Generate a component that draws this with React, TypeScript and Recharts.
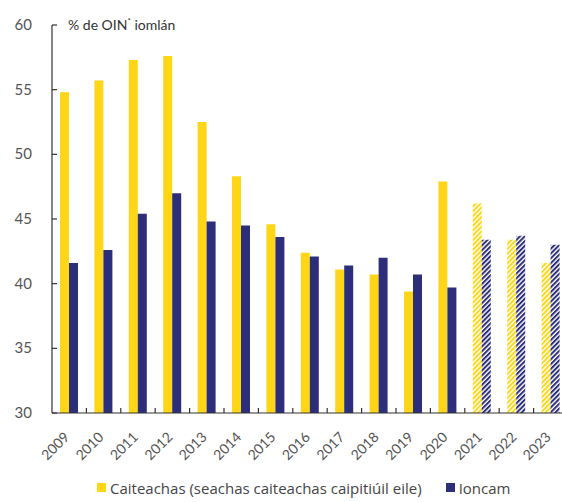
import React from "react";
import { BarChart, Bar, XAxis, YAxis, Cell, Legend } from "recharts";

const years = ["2009", "2010", "2011", "2012", "2013", "2014", "2015", "2016", "2017", "2018", "2019", "2020", "2021", "2022", "2023"];
const expenditure = [54.8, 55.7, 57.3, 57.6, 52.5, 48.3, 44.6, 42.4, 41.1, 40.7, 39.4, 47.9, 46.2, 43.4, 41.6];
const revenue = [41.6, 42.6, 45.4, 47.0, 44.8, 44.5, 43.6, 42.1, 41.4, 42.0, 40.7, 39.7, 43.4, 43.7, 43.0];
const forecastYears = ["2021", "2022", "2023"];
const yTicks = [30, 35, 40, 45, 50, 55, 60];

const YELLOW = "#FFD617";
const NAVY = "#2C2E7A";
const FONT = "Lato, 'Open Sans', sans-serif";

const data = years.map((year, i) => ({
  year,
  expenditure: expenditure[i],
  revenue: revenue[i],
}));

const CHART_W = 568;
const CHART_H = 502;
const Y_AXIS_W = 52;
const BAND = (CHART_W - Y_AXIS_W) / years.length;

function YTick(props: any) {
  const { x, y, payload } = props;
  return (
    <g>
      <line x1={x + 20} x2={x + 25} y1={y} y2={y} stroke="#333" strokeWidth={1.2} />
      <text x={x} y={y} dy={5} textAnchor="end" fontSize={15} fill="#555" fontFamily={FONT}>
        {payload.value}
      </text>
    </g>
  );
}

function XTick(props: any) {
  const { x, y, payload, index } = props;
  const bx = x + BAND / 2;
  return (
    <g>
      {index < years.length - 1 && (
        <line x1={bx} x2={bx} y1={y} y2={y - 5} stroke="#333" strokeWidth={1.2} />
      )}
      <text
        x={x + 1}
        y={y + 25}
        textAnchor="end"
        fontSize={14}
        fill="#555"
        fontFamily={FONT}
        transform={`rotate(-45 ${x + 1} ${y + 25})`}
      >
        {payload.value}
      </text>
    </g>
  );
}

function LegendContent() {
  const item = (color: string, label: string) => (
    <div style={{ display: "flex", alignItems: "center" }}>
      <span style={{ width: 9, height: 9, background: color, marginRight: 4, display: "inline-block" }} />
      <span>{label}</span>
    </div>
  );
  return (
    <div
      style={{
        height: 29,
        display: "flex",
        alignItems: "center",
        gap: 24,
        paddingLeft: 97,
        fontFamily: "'Open Sans', Lato, sans-serif",
        fontSize: 15,
        color: "#444",
      }}
    >
      {item(YELLOW, "Caiteachas (seachas caiteachas caipitiúil eile)")}
      {item(NAVY, "Ioncam")}
    </div>
  );
}

export default function App() {
  return (
    <div style={{ position: "absolute", left: 0, top: 0, width: 562, height: 502, overflow: "hidden", background: "#fff" }}>
      <div
        style={{
          position: "absolute",
          left: 68,
          top: 16,
          fontFamily: FONT,
          fontSize: 14,
          color: "#333",
          zIndex: 1,
        }}
      >
        % de OIN<sup style={{ fontSize: 8 }}>*</sup> iomlán
      </div>
      <BarChart
        width={CHART_W}
        height={CHART_H}
        data={data}
        margin={{ top: 25, right: 0, bottom: 0, left: 0 }}
        barGap={0}
        barSize={9}
      >
        <defs>
          <pattern id="hatchYellow" patternUnits="userSpaceOnUse" width={3.4} height={3.4} patternTransform="rotate(45)">
            <rect x={0} y={0} width={2} height={3.4} fill={YELLOW} />
          </pattern>
          <pattern id="hatchNavy" patternUnits="userSpaceOnUse" width={3.4} height={3.4} patternTransform="rotate(45)">
            <rect x={0} y={0} width={2} height={3.4} fill={NAVY} />
          </pattern>
        </defs>
        <XAxis
          dataKey="year"
          interval={0}
          tickSize={0}
          tickMargin={0}
          height={60}
          axisLine={{ stroke: "#333", strokeWidth: 1.2 }}
          tick={<XTick />}
        />
        <YAxis
          domain={[30, 60]}
          ticks={yTicks}
          width={Y_AXIS_W}
          tickSize={0}
          tickMargin={20}
          axisLine={{ stroke: "#333", strokeWidth: 1.2 }}
          tick={<YTick />}
          allowDataOverflow
        />
        <Legend verticalAlign="bottom" content={<LegendContent />} />
        <Bar dataKey="expenditure" name="Caiteachas (seachas caiteachas caipitiúil eile)" fill={YELLOW} isAnimationActive={false}>
          {data.map((d) => (
            <Cell key={d.year} fill={forecastYears.includes(d.year) ? "url(#hatchYellow)" : YELLOW} />
          ))}
        </Bar>
        <Bar dataKey="revenue" name="Ioncam" fill={NAVY} isAnimationActive={false}>
          {data.map((d) => (
            <Cell key={d.year} fill={forecastYears.includes(d.year) ? "url(#hatchNavy)" : NAVY} />
          ))}
        </Bar>
      </BarChart>
    </div>
  );
}
